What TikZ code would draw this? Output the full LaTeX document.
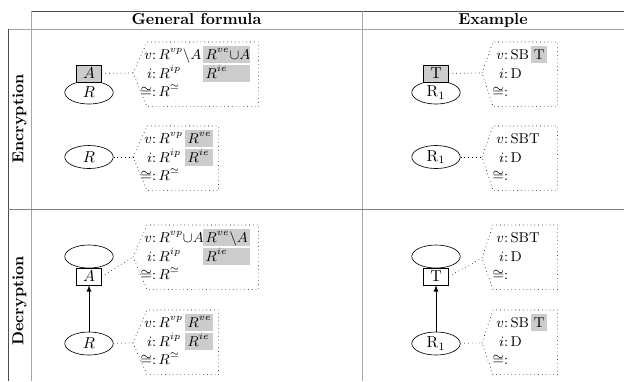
\documentclass[tikz,border=0pt]{standalone}
\usepackage{xcolor}
\usepackage{amsmath}
\usepackage{amssymb}
\usepackage{tikz}
\usetikzlibrary{shapes.geometric}

\newcommand{\fld}[2]{\makebox[10pt][r]{#1:}\hspace{1.5pt}#2}

\begin{document}
\begin{tikzpicture}[x=0.63pt, y=-0.63pt,
    relnode/.style={ellipse, draw, minimum width=30.5pt, minimum height=14.5pt, inner sep=0pt},
    attrbox/.style={rectangle, draw, minimum width=15.5pt, minimum height=10.5pt, inner sep=0pt},
    callout/.style={rectangle, anchor=north west, minimum height=40.3pt, inner sep=0pt},
    fieldrow/.style={anchor=base west, inner sep=0pt, font=\small},
    hilite/.style={anchor=base west, fill=gray!40, inner xsep=1.5pt, inner ysep=0pt,
        text height=8.2pt, text depth=2.2pt, font=\small},
    link/.style={dotted},
    tabline/.style={draw=black!35, line width=0.6pt}]
    \useasboundingbox (0,0) rectangle (624,381);

    % Table
    \draw[tabline, draw=black!70] (31,11) -- (624,11);
    \draw[tabline] (8,29) -- (624,29);
    \draw[tabline, draw=black!70] (8,29) -- (8,381);
    \draw[tabline] (31,11) -- (31,381);
    \draw[tabline] (362,11) -- (362,381);
    \draw[tabline, draw=black!50] (8,209) -- (624,209);
    \node[font=\bfseries, anchor=base] (hGen) at (196.5,24.5) {General formula};
    \node[font=\bfseries, anchor=base] (hEx) at (493,24.5) {Example};
    \node[font=\bfseries, rotate=90] (lEnc) at (19.5,119) {Encryption};
    \node[font=\bfseries, rotate=90] (lDec) at (19.5,301) {Decryption};

    % Encryption, general formula
    \node[relnode] (eR) at (89,92.5) {$R$};
    \node[attrbox, fill=gray!40] (eA) at (89,73.5) {$A$};
    \coordinate (eTip) at (133,73);
    \node[callout, minimum width=69.9pt] (eBox) at (147,42) {};
    \draw[link] (eA) -- (eTip);
    \draw[link] (eTip) -- (eBox.north west) -- (eBox.north east) -- (eBox.south east) -- (eBox.south west) -- cycle;
    \node[fieldrow] (eV) at (140,59) {\fld{$v$}{$R^{vp}\backslash A$}};
    \node[fieldrow] (eI) at (140,78) {\fld{$i$}{$R^{ip}$}};
    \node[fieldrow] (eS) at (140,96) {\fld{$\cong$}{$R^{\simeq}$}};
    \node[hilite, text width=26.6pt] (eVe) at (203,59) {$R^{ve}{\cup}A$};
    \node[hilite, text width=26.6pt] (eIe) at (203,78) {$R^{ie}$};

    \node[relnode] (fR) at (89,157) {$R$};
    \coordinate (fTip) at (133,157);
    \node[callout, minimum width=44.7pt] (fBox) at (147,126) {};
    \draw[link] (fR) -- (fTip);
    \draw[link] (fTip) -- (fBox.north west) -- (fBox.north east) -- (fBox.south east) -- (fBox.south west) -- cycle;
    \node[fieldrow] (fV) at (140,143) {\fld{$v$}{$R^{vp}$}};
    \node[fieldrow] (fI) at (140,162) {\fld{$i$}{$R^{ip}$}};
    \node[fieldrow] (fS) at (140,180) {\fld{$\cong$}{$R^{\simeq}$}};
    \node[hilite, text width=14.6pt] (fVe) at (185,143) {$R^{ve}$};
    \node[hilite, text width=14.6pt] (fIe) at (185,162) {$R^{ie}$};

    % Encryption, example
    \node[relnode] (xR) at (436,92.5) {$\mathrm{R}_1$};
    \node[attrbox, fill=gray!40] (xT) at (436,73.5) {T};
    \coordinate (xTip) at (482,73);
    \node[callout, minimum width=40.3pt] (xBox) at (493,42) {};
    \draw[link] (xT) -- (xTip);
    \draw[link] (xTip) -- (xBox.north west) -- (xBox.north east) -- (xBox.south east) -- (xBox.south west) -- cycle;
    \node[fieldrow] (xV) at (492,59) {\fld{$v$}{SB}};
    \node[fieldrow] (xI) at (492,78) {\fld{$i$}{D}};
    \node[fieldrow] (xS) at (492,96) {\fld{$\cong$}{}};
    \node[hilite, minimum width=10pt] (xVe) at (531,59) {T};

    \node[relnode] (yR) at (436,157) {$\mathrm{R}_1$};
    \coordinate (yTip) at (482,157);
    \node[callout, minimum width=40.3pt] (yBox) at (493,126) {};
    \draw[link] (yR) -- (yTip);
    \draw[link] (yTip) -- (yBox.north west) -- (yBox.north east) -- (yBox.south east) -- (yBox.south west) -- cycle;
    \node[fieldrow] (yV) at (492,143) {\fld{$v$}{SBT}};
    \node[fieldrow] (yI) at (492,162) {\fld{$i$}{D}};
    \node[fieldrow] (yS) at (492,180) {\fld{$\cong$}{}};

    % Decryption, general formula
    \node[relnode] (dE) at (89,256.5) {};
    \node[attrbox, fill=white] (dA) at (89,276.5) {$A$};
    \node[relnode] (dR) at (89,343.5) {$R$};
    \draw[-latex] (dR) -- (dA);
    \coordinate (dTip) at (133,257);
    \node[callout, minimum width=69.9pt] (dBox) at (147,225) {};
    \draw[link] (dA.east) -- (dTip);
    \draw[link] (dTip) -- (dBox.north west) -- (dBox.north east) -- (dBox.south east) -- (dBox.south west) -- cycle;
    \node[fieldrow] (dV) at (140,242) {\fld{$v$}{$R^{vp}{\cup}A$}};
    \node[fieldrow] (dI) at (140,261) {\fld{$i$}{$R^{ip}$}};
    \node[fieldrow] (dS) at (140,279) {\fld{$\cong$}{$R^{\simeq}$}};
    \node[hilite, text width=26.6pt] (dVe) at (203,242) {$R^{ve}\backslash A$};
    \node[hilite, text width=26.6pt] (dIe) at (203,261) {$R^{ie}$};

    \coordinate (gTip) at (133,343);
    \node[callout, minimum width=44.7pt] (gBox) at (147,310) {};
    \draw[link] (dR) -- (gTip);
    \draw[link] (gTip) -- (gBox.north west) -- (gBox.north east) -- (gBox.south east) -- (gBox.south west) -- cycle;
    \node[fieldrow] (gV) at (140,327) {\fld{$v$}{$R^{vp}$}};
    \node[fieldrow] (gI) at (140,346) {\fld{$i$}{$R^{ip}$}};
    \node[fieldrow] (gS) at (140,364) {\fld{$\cong$}{$R^{\simeq}$}};
    \node[hilite, text width=14.6pt] (gVe) at (185,327) {$R^{ve}$};
    \node[hilite, text width=14.6pt] (gIe) at (185,346) {$R^{ie}$};

    % Decryption, example
    \node[relnode] (uE) at (436,256.5) {};
    \node[attrbox, fill=white] (uT) at (436,276.5) {T};
    \node[relnode] (uR) at (436,343.5) {$\mathrm{R}_1$};
    \draw[-latex] (uR) -- (uT);
    \coordinate (uTip) at (482,258);
    \node[callout, minimum width=40.3pt] (uBox) at (493,225) {};
    \draw[link] (uT.east) -- (uTip);
    \draw[link] (uTip) -- (uBox.north west) -- (uBox.north east) -- (uBox.south east) -- (uBox.south west) -- cycle;
    \node[fieldrow] (uV) at (492,242) {\fld{$v$}{SBT}};
    \node[fieldrow] (uI) at (492,261) {\fld{$i$}{D}};
    \node[fieldrow] (uS) at (492,279) {\fld{$\cong$}{}};

    \coordinate (wTip) at (482,343);
    \node[callout, minimum width=40.3pt] (wBox) at (493,310) {};
    \draw[link] (uR) -- (wTip);
    \draw[link] (wTip) -- (wBox.north west) -- (wBox.north east) -- (wBox.south east) -- (wBox.south west) -- cycle;
    \node[fieldrow] (wV) at (492,327) {\fld{$v$}{SB}};
    \node[fieldrow] (wI) at (492,346) {\fld{$i$}{D}};
    \node[fieldrow] (wS) at (492,364) {\fld{$\cong$}{}};
    \node[hilite, minimum width=10pt] (wVe) at (531,327) {T};
\end{tikzpicture}
\end{document}
